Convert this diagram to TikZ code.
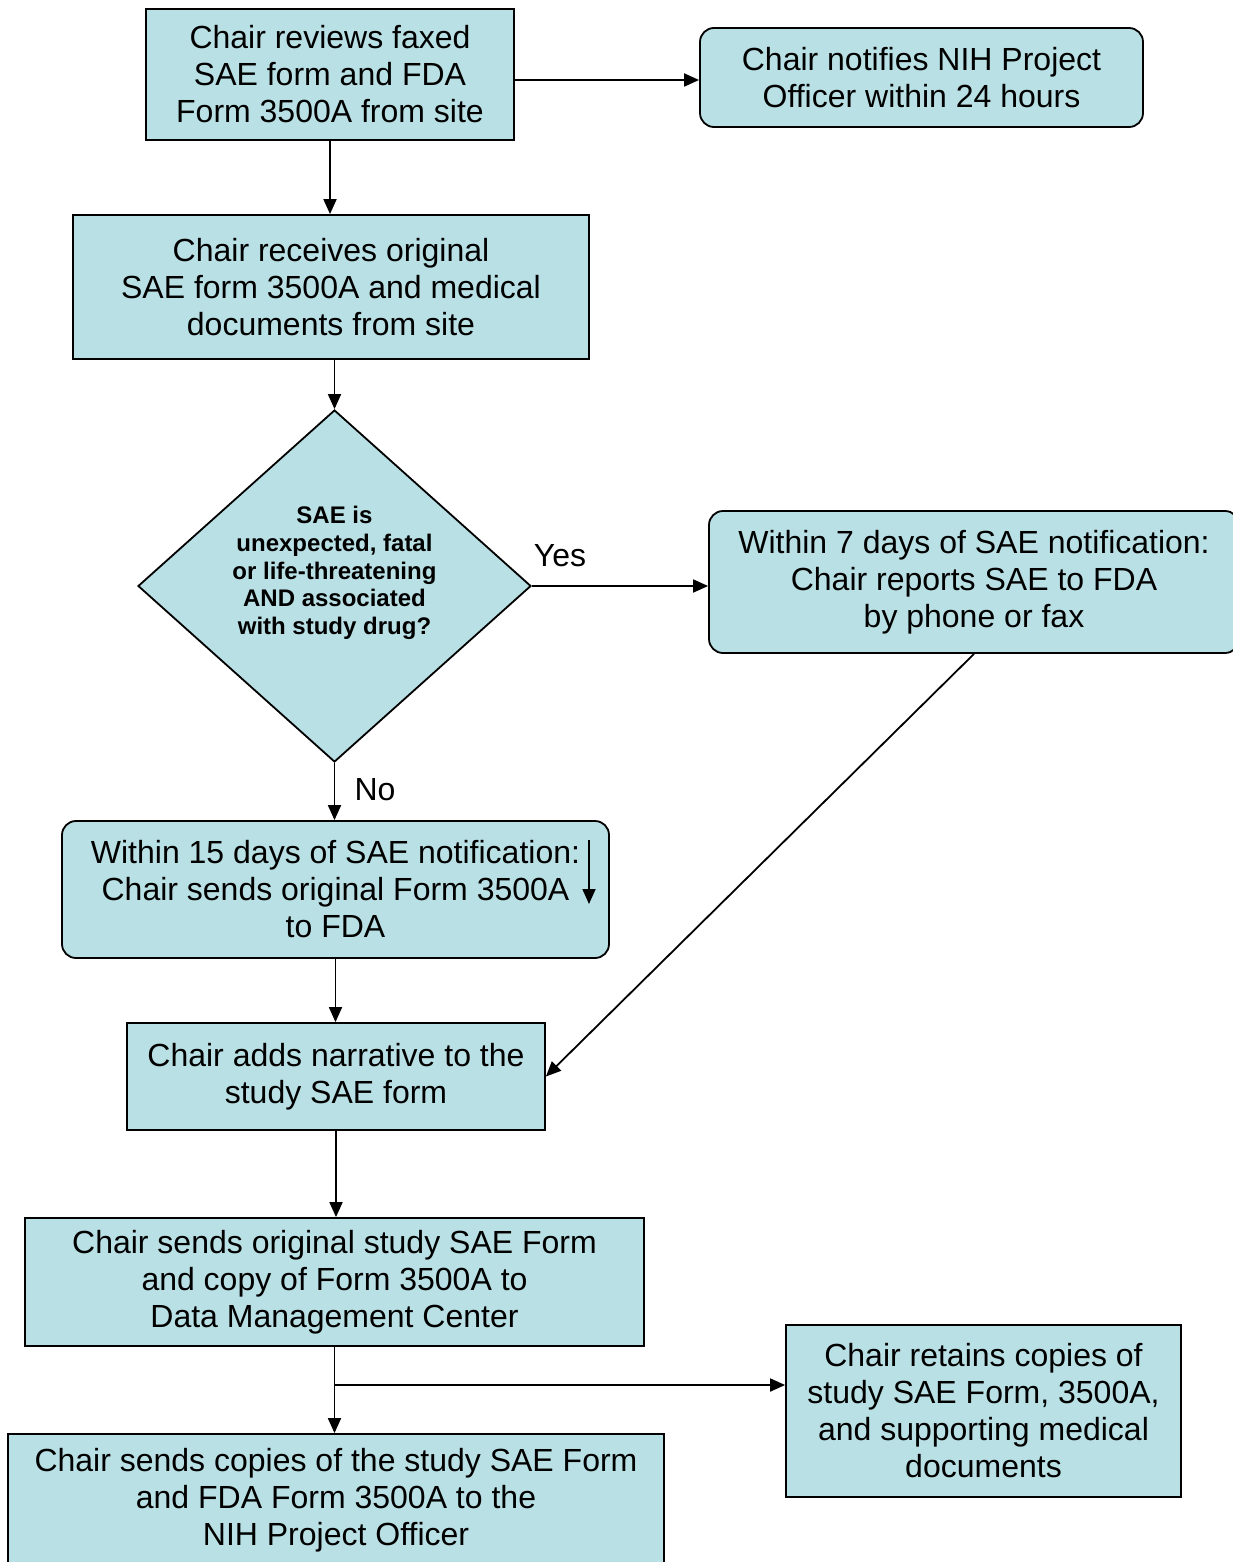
\documentclass[tikz,border=0pt]{standalone}
\usepackage{fontspec}
\setmainfont{Liberation Sans}
\usetikzlibrary{arrows.meta,shapes.geometric}
\definecolor{boxfill}{RGB}{185,224,228}
\begin{document}
\begin{tikzpicture}[x=1pt,y=-1pt,
  box/.style={draw=black,line width=1.8pt,fill=boxfill,inner sep=0pt,align=center,
    font=\fontsize{32}{37}\selectfont},
  rbox/.style={box,rounded corners=14pt},
  arr/.style={line width=1.8pt,-{Triangle[length=15pt,width=13pt]}},
  lbl/.style={font=\fontsize{32}{37}\selectfont,inner sep=0pt}]
\clip (0,0) rectangle (1233,1562);
\useasboundingbox (0,0) rectangle (1233,1562);

\node[box,minimum width=368pt,minimum height=131pt] (A) at (330,74.5)
  {Chair reviews faxed\\SAE form and FDA\\Form 3500A from site};
\node[rbox,minimum width=443pt,minimum height=99pt] (B) at (921.5,77.5)
  {Chair notifies NIH Project\\Officer within 24 hours};
\node[box,minimum width=516pt,minimum height=144pt] (C) at (331,287)
  {Chair receives original\\SAE form 3500A and medical\\documents from site};
\node[diamond,draw=black,line width=1.8pt,fill=boxfill,inner sep=0pt,aspect=1.116,
  minimum width=393pt,minimum height=352pt] (dec) at (334.5,586) {};
\node[align=center,inner sep=0pt,font=\fontsize{24}{27.6}\selectfont\bfseries] (dectext) at (334.5,573)
  {SAE is\\unexpected, fatal\\or life-threatening\\ AND associated\\with study drug?};
\node[rbox,minimum width=530pt,minimum height=142pt] (D) at (974,582)
  {Within 7 days of SAE notification:\\Chair reports SAE to FDA\\by phone or fax};
\node[rbox,minimum width=547pt,minimum height=137pt] (E) at (335.5,889.5)
  {Within 15 days of SAE notification:\\Chair sends original Form 3500A\\to FDA};
\node[box,minimum width=418pt,minimum height=107pt] (F) at (336,1076.5)
  {Chair adds narrative to the\\study SAE form};
\node[box,minimum width=619pt,minimum height=128pt] (G) at (334.5,1282)
  {Chair sends original study SAE Form\\and copy of Form 3500A to\\Data Management Center};
\node[box,minimum width=395pt,minimum height=172pt] (H) at (983.5,1411)
  {Chair retains copies of\\study SAE Form, 3500A,\\and supporting medical\\documents};
\node[box,minimum width=656pt,minimum height=132pt] (I) at (336,1500)
  {Chair sends copies of the study SAE Form\\and FDA Form 3500A to the\\NIH Project Officer};

\node[lbl] (yes) at (560,556) {Yes};
\node[lbl] (no) at (375,790) {No};

\coordinate (s1) at (589,840);
\coordinate (s2) at (589,904);
\coordinate (br) at (335,1385);

\draw[arr] ([yshift=-2.5pt]B.west -| A.east) -- ([yshift=-2.5pt]B.west);
\draw[arr] (A.south) -- (A.south |- C.north);
\draw[arr] (dec.north |- C.south) -- (dec.north);
\draw[arr] (dec.east) -- (dec.east -| D.west);
\draw[arr] (dec.south) -- (dec.south |- E.north);
\draw[arr] (D.south) -- (F.east);
\draw[arr] (E.south) -- (E.south |- F.north);
\draw[arr] (F.south) -- (F.south |- G.north);
\draw[arr] (G.south) -- (G.south |- I.north);
\draw[arr] (br) -- (br -| H.west);
\draw[arr] (s1) -- (s2);
\end{tikzpicture}
\end{document}
